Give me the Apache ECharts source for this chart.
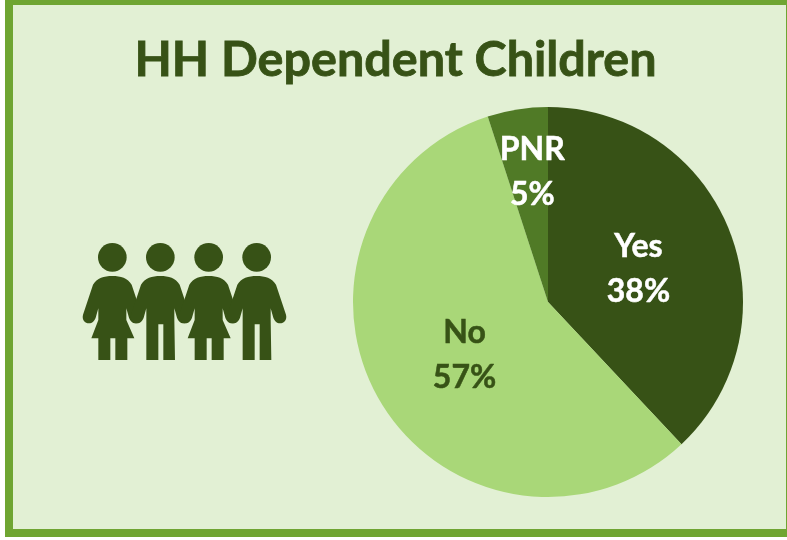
<!DOCTYPE html>
<html><head><meta charset="utf-8">
<style>html,body{margin:0;padding:0;background:#fff}#c{width:787px;height:540px}</style>
<script src="https://cdn.jsdelivr.net/npm/echarts@6/dist/echarts.min.js"></script>
</head><body><div id="c"></div>
<script>
const titleText = 'HH Dependent Children';
const categories = ['Yes', 'No', 'PNR'];
const values = [38, 57, 5];
const sliceColors = ['#375216', '#A9D778', '#507A26'];
const labelColors = ['#FFFFFF', '#375216', '#FFFFFF'];
const labelOffsets = [[-3, 4], [3, 2], [0, -31]];

const dark = '#375216';
function arms(c) {
  return `M${c} 168 C${c-25} 168 ${c-46} 174 ${c-58} 194 L${c-88} 284 C${c-92} 300 ${c-82} 310 ${c-70} 310 ` +
    `C${c-60} 310 ${c-54} 303 ${c-50} 293 L${c-42} 265 L${c-42} 300 `;
}
function armsEnd(c) {
  return `L${c+42} 300 L${c+42} 265 L${c+50} 293 C${c+54} 303 ${c+60} 310 ${c+70} 310 ` +
    `C${c+82} 310 ${c+92} 300 ${c+88} 284 L${c+58} 194 C${c+46} 174 ${c+25} 168 ${c} 168 Z `;
}
function woman(c) {
  return arms(c) + `L${c-63} 355 L${c-42} 355 L${c-42} 420 L${c-6} 420 L${c-6} 355 L${c+9} 355 L${c+9} 420 L${c+45} 420 L${c+45} 355 L${c+66} 355 ` + armsEnd(c);
}
function man(c) {
  return arms(c) + `L${c-42} 420 L${c-6} 420 L${c-6} 313 L${c+9} 313 L${c+9} 420 L${c+44} 420 ` + armsEnd(c);
}
const iconBase = {x: 60, y: 220, scaleX: 1/3, scaleY: 1/3, style: {fill: dark}, z: 5};
const icon = [];
[157, 301, 446, 590].forEach((c, i) => {
  const name = 'person' + i;
  echarts.graphic.registerShape(name, echarts.graphic.extendPath(i % 2 === 0 ? woman(c) : man(c), {}));
  icon.push({type: 'circle', ...iconBase, shape: {cx: c, cy: 112, r: 43}});
  icon.push({type: name, ...iconBase});
});

const chart = echarts.init(document.getElementById('c'), null, {renderer: 'canvas'});
chart.setOption({
  animation: false,
  backgroundColor: '#FFFFFF',
  title: {
    text: titleText, left: 390.5, top: 31, textAlign: 'center',
    textStyle: {fontFamily: 'Lato', fontWeight: 'bold', fontSize: 48.5, color: dark,
      textBorderColor: dark, textBorderWidth: 0.8}
  },
  graphic: [
    {type: 'rect', z: -1, shape: {x: 9, y: 1, width: 781, height: 532},
     style: {fill: '#E2F0D4', stroke: '#6FA532', lineWidth: 8}},
    ...icon
  ],
  series: [{
    type: 'pie', center: [548, 302], radius: [0, 195], startAngle: 90, clockwise: true,
    labelLine: {show: false}, emphasis: {disabled: true},
    data: categories.map((n, i) => ({
      name: n, value: values[i],
      itemStyle: {color: sliceColors[i]},
      label: {show: true, position: 'inside', formatter: '{b}\n{d}%', color: labelColors[i],
        offset: labelOffsets[i], fontFamily: 'Lato', fontWeight: 'bold', fontSize: 32, lineHeight: 45,
        textBorderColor: labelColors[i], textBorderWidth: 0.5}
    }))
  }]
});
</script></body></html>
